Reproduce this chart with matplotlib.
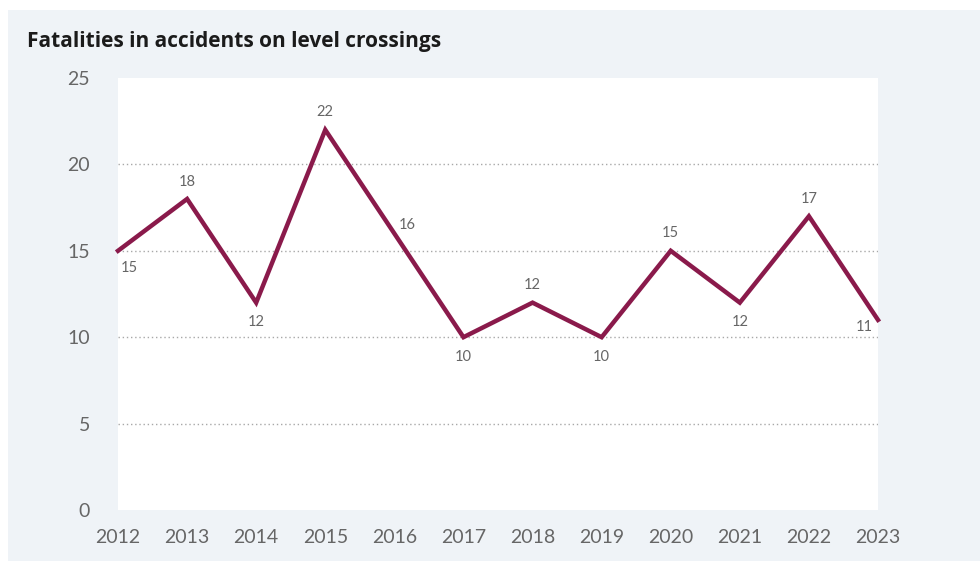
import matplotlib
matplotlib.use("Agg")
import matplotlib.pyplot as plt
from matplotlib.patches import Rectangle

years = [2012, 2013, 2014, 2015, 2016, 2017, 2018, 2019, 2020, 2021, 2022, 2023]
fatalities = [15, 18, 12, 22, 16, 10, 12, 10, 15, 12, 17, 11]
# where each value label sits relative to its point
label_side = ["below_right", "above", "below", "above", "above_right", "below",
              "above", "below", "above", "below", "above", "below_left"]
y_ticks = [0, 5, 10, 15, 20, 25]

title = "Fatalities in accidents on level crossings"
line_color = "#8a1a4b"
panel_bg = "#eff3f7"
text_grey = "#666666"

W, H = 980, 561
fig = plt.figure(figsize=(W / 100, H / 100), dpi=100)
fig.patch.set_facecolor("white")
fig.add_artist(Rectangle((8 / W, 0), 1 - 8 / W, 1 - 10 / H, transform=fig.transFigure,
                         facecolor=panel_bg, edgecolor="none", zorder=-10))

left, right, top, bottom = 118, 878, 78, 510
ax = fig.add_axes([left / W, 1 - bottom / H, (right - left) / W, (bottom - top) / H])
ax.set_facecolor("white")
for s in ax.spines.values():
    s.set_visible(False)

ax.set_xlim(years[0], years[-1])
ax.set_ylim(0, 25)
ax.set_yticks(y_ticks)
ax.set_xticks(years)
ax.tick_params(length=0, colors=text_grey, labelsize=14)
ax.tick_params(axis="y", pad=20)
ax.tick_params(axis="x", pad=14)
for lab in ax.get_xticklabels() + ax.get_yticklabels():
    lab.set_family("Lato")

for v in y_ticks[1:-1]:
    ax.axhline(v, color="#a8a8a8", linewidth=1, linestyle=(0, (1, 2)), zorder=1)

ax.plot(years, fatalities, color=line_color, linewidth=3.2, clip_on=False,
        solid_joinstyle="miter", zorder=3)

offsets = {
    "above": (0, 7.5, "center", "bottom"),
    "below": (0, -9, "center", "top"),
    "above_right": (9, 6, "center", "center"),
    "below_right": (8, -7, "center", "top"),
    "below_left": (-10, -5, "center", "center"),
}
for x, y, side in zip(years, fatalities, label_side):
    dx, dy, ha, va = offsets[side]
    ax.annotate(str(y), xy=(x, y), xytext=(dx, dy), textcoords="offset points",
                ha=ha, va=va, fontsize=10.5, color=text_grey, family="Lato",
                annotation_clip=False)

fig.text(27 / W, 1 - 42 / H, title, ha="left", va="center", fontsize=15,
         fontweight="bold", family="Open Sans", color="#1b1b1b")

fig.savefig("out.png", dpi=100)
